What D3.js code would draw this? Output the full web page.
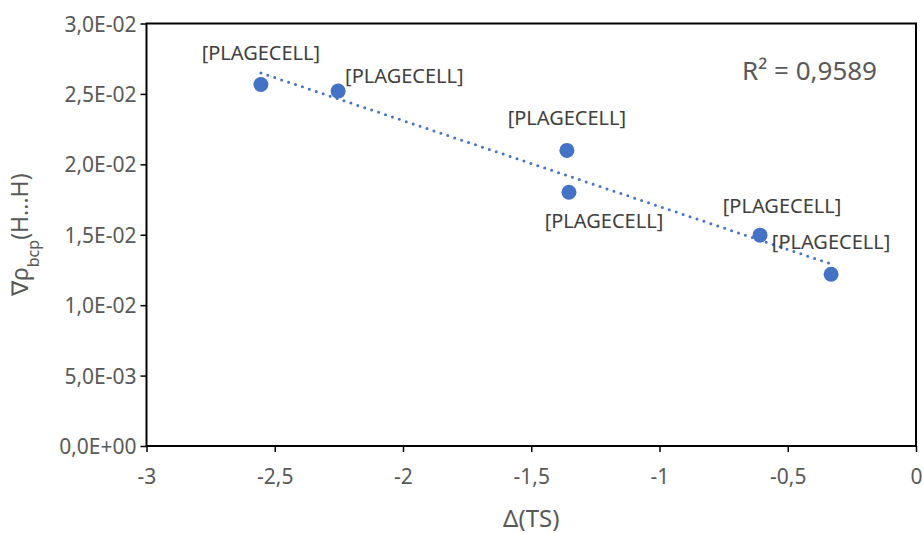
<!DOCTYPE html>
<html>
<head>
<meta charset="utf-8">
<script src="https://cdn.jsdelivr.net/npm/d3@7"></script>
<style>
  body { margin: 0; background: #fff; }
  text { font-family: "Noto Sans", sans-serif; }
</style>
</head>
<body>
<div id="chart"></div>
<script>
// data
var deltaTS = [-2.554, -2.253, -1.361, -1.353, -0.608, -0.331];
var gradRho = [0.02567, 0.02520, 0.02099, 0.01802, 0.01497, 0.01220];
var pointLabels = ["[PLAGECELL]", "[PLAGECELL]", "[PLAGECELL]", "[PLAGECELL]", "[PLAGECELL]", "[PLAGECELL]"];
var xTicks = [-3, -2.5, -2, -1.5, -1, -0.5, 0];
var yTicks = [0, 0.005, 0.01, 0.015, 0.02, 0.025, 0.03];
var rSquaredText = "R² = 0,9589";

// label placement (pixels from the point, text anchor)
var labelPos = [
  {dx: 0, dy: -24, anchor: "middle"},
  {dx: 7, dy: -8, anchor: "start"},
  {dx: 0, dy: -25, anchor: "middle"},
  {dx: 35, dy: 36, anchor: "middle"},
  {dx: 22, dy: -22, anchor: "middle"},
  {dx: 0, dy: -25, anchor: "middle"}
];

var width = 923, height = 534;
var margin = {top: 23.5, left: 146.5, right: 7, bottom: 88};

var svg = d3.select("#chart").append("svg")
  .attr("width", width)
  .attr("height", height);

var x = d3.scaleLinear().domain([-3, 0]).range([margin.left, width - margin.right]);
var y = d3.scaleLinear().domain([0, 0.03]).range([height - margin.bottom, margin.top]);

function fmtX(v) { return String(v).replace(".", ","); }
function fmtY(v) {
  var parts = v.toExponential(1).split("e");
  var e = parseInt(parts[1], 10);
  var sign = e < 0 ? "-" : "+";
  var ee = String(Math.abs(e)).padStart(2, "0");
  return parts[0].replace(".", ",") + "E" + sign + ee;
}

var xAxis = svg.append("g")
  .attr("transform", "translate(0," + y(0) + ")")
  .call(d3.axisBottom(x).tickValues(xTicks).tickFormat(fmtX).tickSize(6).tickSizeOuter(0));
var yAxis = svg.append("g")
  .attr("transform", "translate(" + x(-3) + ",0)")
  .call(d3.axisLeft(y).tickValues(yTicks).tickFormat(fmtY).tickSize(6).tickSizeOuter(0));

[xAxis, yAxis].forEach(function(a) {
  a.attr("font-size", null).attr("font-family", null);
  a.select(".domain").remove();
  a.selectAll(".tick line").attr("stroke", "#000").attr("stroke-width", 1.5);
  a.selectAll(".tick text")
    .attr("fill", "#595959")
    .style("font-size", "21px");
});
xAxis.selectAll(".tick text").attr("y", 19).attr("dy", "0.9em");
yAxis.selectAll(".tick text").attr("x", -10).attr("dy", "0.36em");

// plot frame
svg.append("rect")
  .attr("x", x(-3)).attr("y", y(0.03))
  .attr("width", x(0) - x(-3)).attr("height", y(0) - y(0.03))
  .attr("fill", "none").attr("stroke", "#000").attr("stroke-width", 2);

// linear trend line from the points
var n = deltaTS.length;
var mx = d3.mean(deltaTS), my = d3.mean(gradRho);
var sxy = 0, sxx = 0;
for (var i = 0; i < n; i++) {
  sxy += (deltaTS[i] - mx) * (gradRho[i] - my);
  sxx += (deltaTS[i] - mx) * (deltaTS[i] - mx);
}
var slope = sxy / sxx, icpt = my - slope * mx;
var x0 = d3.min(deltaTS), x1 = d3.max(deltaTS);
svg.append("line")
  .attr("x1", x(x0)).attr("y1", y(icpt + slope * x0))
  .attr("x2", x(x1)).attr("y2", y(icpt + slope * x1))
  .attr("stroke", "#4472C4").attr("stroke-width", 3)
  .attr("stroke-linecap", "round").attr("stroke-dasharray", "0,7.3");

// points
svg.selectAll("circle.pt")
  .data(deltaTS)
  .enter().append("circle")
  .attr("class", "pt")
  .attr("cx", function(d) { return x(d); })
  .attr("cy", function(d, i) { return y(gradRho[i]); })
  .attr("r", 7.5)
  .attr("fill", "#4472C4");

// data labels
svg.selectAll("text.lbl")
  .data(pointLabels)
  .enter().append("text")
  .attr("class", "lbl")
  .attr("x", function(d, i) { return x(deltaTS[i]) + labelPos[i].dx; })
  .attr("y", function(d, i) { return y(gradRho[i]) + labelPos[i].dy; })
  .attr("text-anchor", function(d, i) { return labelPos[i].anchor; })
  .attr("fill", "#404040")
  .style("font-size", "20px")
  .text(function(d) { return d; });

// R squared
svg.append("text")
  .attr("x", 742).attr("y", 80)
  .attr("fill", "#595959")
  .style("font-size", "26px")
  .text(rSquaredText);

// axis titles
svg.append("text")
  .attr("x", (x(-3) + x(0)) / 2).attr("y", 527)
  .attr("text-anchor", "middle")
  .attr("fill", "#595959")
  .style("font-size", "24px")
  .text("Δ(TS)");

var yt = svg.append("text")
  .attr("transform", "translate(28," + (y(0) + y(0.03)) / 2 + ") rotate(-90)")
  .attr("text-anchor", "middle")
  .attr("fill", "#595959")
  .style("font-size", "23px");
yt.append("tspan").text("∇ρ");
yt.append("tspan").attr("baseline-shift", "sub").style("font-size", "16px").text("bcp");
yt.append("tspan").text("(H...H)");
</script>
</body>
</html>
